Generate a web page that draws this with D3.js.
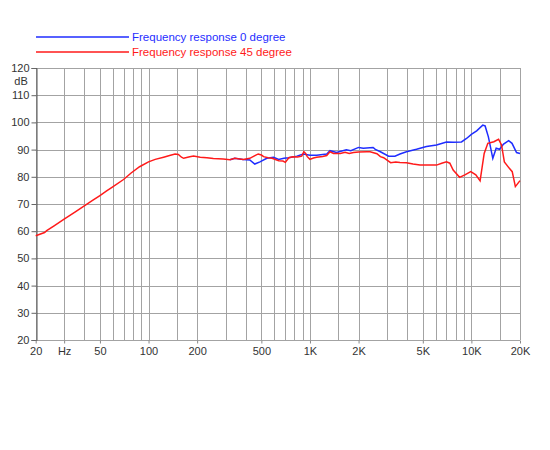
<!DOCTYPE html>
<html>
<head>
<meta charset="utf-8">
<script src="https://cdn.jsdelivr.net/npm/d3@7"></script>
<style>
  body { margin: 0; background: #fff; }
  svg { font-family: "Liberation Sans", Arial, sans-serif; }
</style>
</head>
<body>
<svg id="container" width="550" height="450"></svg>
<script>
// series labels
const seriesNames = ["Frequency response 0 degree", "Frequency response 45 degree"];

// 0 degree (blue) - below ~320 Hz it sits under the red one
const freq0 = [320, 342, 385, 424, 455, 490, 540, 595, 640, 690, 739, 830, 910, 1000, 1100, 1270, 1330, 1460, 1680, 1790,
  2000, 2140, 2460, 2540, 2730, 3070, 3360, 3610, 3960, 4570, 5270, 6080, 7010, 7710, 8680, 9330, 10040, 10780, 11760,
  12160, 12740, 13570, 14240, 14940, 15820, 17010, 17850, 19040, 20000];
const db0 = [86.3, 86.8, 86.4, 86.2, 84.7, 85.5, 86.8, 87.2, 86.4, 86.8, 87.0, 87.6, 88.4, 87.9, 87.9, 88.4, 89.6, 88.9, 89.9, 89.6,
  90.8, 90.5, 90.8, 90.1, 89.2, 87.6, 87.6, 88.4, 89.2, 90.1, 91.1, 91.7, 92.8, 92.7, 92.8, 94.1, 95.7, 96.9, 99.0,
  98.7, 94.7, 86.8, 90.5, 90.1, 92.0, 93.3, 92.3, 88.9, 88.6];

// 45 degree (red)
const freq45 = [20, 22.7, 23.4, 26, 30, 35, 40, 45, 50, 55, 60, 70, 78, 88, 100, 110, 124, 135, 146, 153, 160, 165, 180, 190,
  209, 230, 252, 290, 319, 342, 385, 424, 450, 478, 500, 516, 550, 583, 640, 680, 704, 739, 782, 840, 889, 917, 940, 962,
  1000, 1050, 1100, 1200, 1270, 1330, 1400, 1540, 1650, 1750, 1860, 2000, 2250, 2358, 2600, 2730, 2860, 3160, 3400, 3610,
  3960, 4350, 4800, 5530, 6080, 6550, 7010, 7350, 7710, 8450, 9110, 9910, 10650, 11320, 12000, 12640, 13770, 14730,
  15370, 16000, 17180, 17900, 18720, 20000];
const db45 = [58.3, 59.5, 60.2, 62.0, 64.4, 67.0, 69.3, 71.3, 73.1, 74.8, 76.3, 79.0, 81.4, 83.7, 85.5, 86.4, 87.2, 87.8, 88.4, 88.2, 87.2, 86.8, 87.4, 87.6,
  87.2, 87.0, 86.7, 86.5, 86.3, 86.8, 86.4, 86.8, 87.6, 88.4, 88.0, 87.4, 87.0, 86.8, 85.9, 85.8, 85.3, 87.0, 87.4, 87.3, 87.6, 89.2, 88.6, 87.4,
  86.4, 86.9, 87.2, 87.5, 87.8, 89.2, 88.6, 88.6, 89.0, 88.6, 88.9, 89.1, 89.2, 89.2, 88.5, 87.4, 87.0, 85.2, 85.4, 85.3,
  85.2, 84.7, 84.3, 84.3, 84.3, 85.0, 85.5, 85.0, 82.5, 79.8, 80.7, 81.9, 80.7, 78.5, 88.6, 92.3, 92.9, 93.8,
  91.7, 85.5, 83.1, 81.9, 76.4, 78.6];

// grid and tick labels
const gridFreqs = [20, 30, 40, 50, 60, 70, 80, 90, 100, 150, 200, 300, 400, 500, 600, 700, 800, 900, 1000, 1500,
  2000, 3000, 4000, 5000, 6000, 7000, 8000, 9000, 10000, 15000, 20000];
const xLabelFreqs = [20, 30, 50, 100, 200, 500, 1000, 2000, 5000, 10000, 20000];
const xLabels = ["20", "Hz", "50", "100", "200", "500", "1K", "2K", "5K", "10K", "20K"];
const dbTicks = [20, 30, 40, 50, 60, 70, 80, 90, 100, 110, 120];

let width = 550, height = 450;
var margin = {top: 68, right: 30, bottom: 110, left: 35.7};

let svg = d3.select("#container");

const xScale = d3.scaleLog()
    .domain([20, 20000])
    .range([margin.left, width - margin.right]);

const yScale = d3.scaleLinear()
    .domain([20, 120])
    .range([height - margin.bottom, margin.top]);

// vertical grid lines
svg.append("g")
    .selectAll("line")
    .data(gridFreqs)
    .enter()
    .append("line")
        .attr("x1", d => Math.round(xScale(d)) + 0.5)
        .attr("x2", d => Math.round(xScale(d)) + 0.5)
        .attr("y1", yScale(120))
        .attr("y2", yScale(20))
        .attr("stroke", "#a3a3a3")
        .attr("stroke-width", 1);

// horizontal grid lines
svg.append("g")
    .selectAll("line")
    .data(dbTicks)
    .enter()
    .append("line")
        .attr("x1", xScale(20))
        .attr("x2", xScale(20000))
        .attr("y1", d => Math.round(yScale(d)) + 0.5)
        .attr("y2", d => Math.round(yScale(d)) + 0.5)
        .attr("stroke", "#a3a3a3")
        .attr("stroke-width", 1);

// y axis
let yAxis = svg.append("g")
    .attr("transform", "translate(" + (Math.round(xScale(20)) + 0.5) + ",0)")
    .call(d3.axisLeft(yScale).tickValues(dbTicks).tickSize(5).tickPadding(2).tickFormat(d3.format("d")));
yAxis.selectAll("text").style("font-size", "11px").attr("fill", "#333");
yAxis.selectAll("line").attr("stroke", "#666");
yAxis.select(".domain").attr("stroke", "#555");

svg.append("text")
    .attr("x", 21)
    .attr("y", 85)
    .attr("text-anchor", "middle")
    .style("font-size", "11px")
    .attr("fill", "#333")
    .text("dB");

// x axis
let xAxis = svg.append("g")
    .attr("transform", "translate(0," + (Math.round(yScale(20)) + 0.5) + ")")
    .call(d3.axisBottom(xScale).tickValues(xLabelFreqs).tickSize(3).tickPadding(4)
        .tickFormat((d, i) => xLabels[i]));
xAxis.selectAll("text").style("font-size", "11px").attr("fill", "#333");
xAxis.selectAll("line").attr("stroke", "#888");
xAxis.select(".domain").remove();

// curves
const line = d3.line()
    .x(d => xScale(d[0]))
    .y(d => yScale(d[1]));

svg.append("path")
    .datum(d3.zip(freq0, db0))
    .attr("d", line)
    .attr("fill", "none")
    .attr("stroke", "#1f2dff")
    .attr("stroke-width", 1.5);

svg.append("path")
    .datum(d3.zip(freq45, db45))
    .attr("d", line)
    .attr("fill", "none")
    .attr("stroke", "#ff1a1a")
    .attr("stroke-width", 1.5);

// legend
const legendColors = ["#1f2dff", "#ff1a1a"];
let legend = svg.append("g")
    .selectAll("g")
    .data(seriesNames)
    .enter()
    .append("g")
        .attr("transform", (d, i) => "translate(0," + (37 + i * 15) + ")");
legend.append("line")
    .attr("x1", 36)
    .attr("x2", 129)
    .attr("stroke", (d, i) => legendColors[i])
    .attr("stroke-width", 1.5);
legend.append("text")
    .attr("x", 132)
    .attr("y", 4)
    .style("font-size", "11.5px")
    .attr("fill", (d, i) => legendColors[i])
    .text(d => d);
</script>
</body>
</html>
